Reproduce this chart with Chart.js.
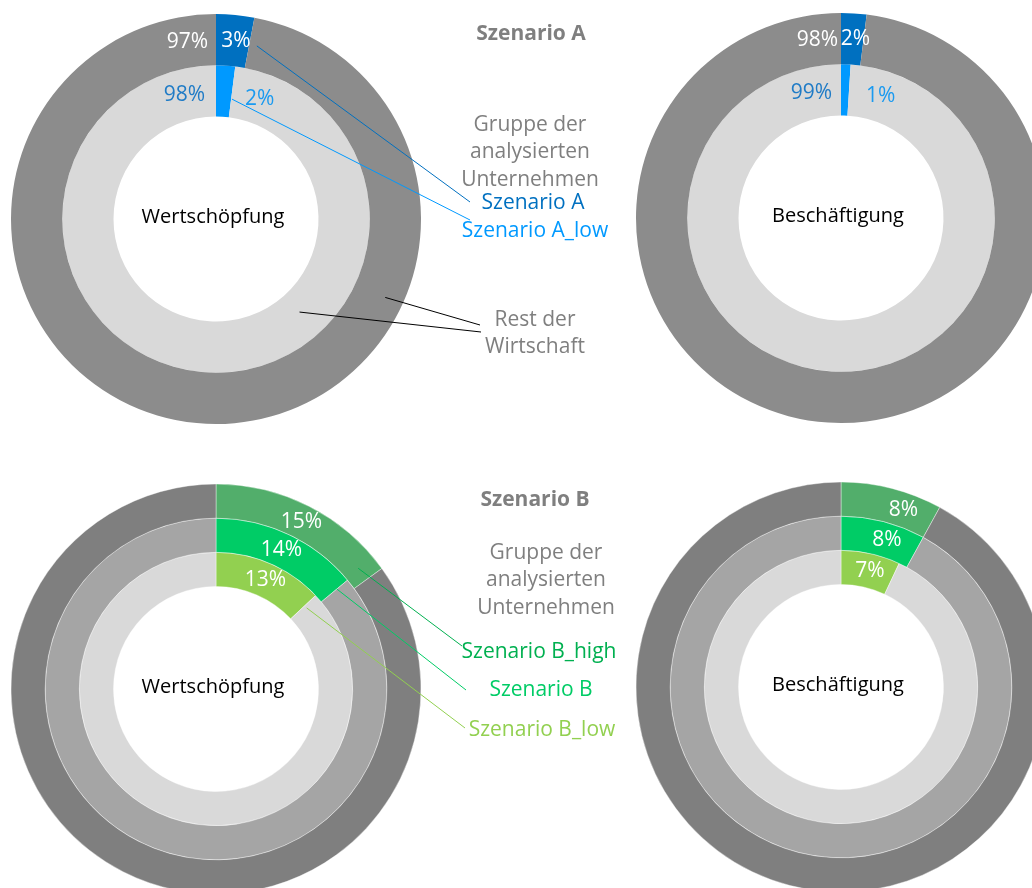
<!DOCTYPE html>
<html lang="de">
<head>
<meta charset="utf-8">
<title>Anteil der analysierten Unternehmen</title>
<script src="https://cdn.jsdelivr.net/npm/chart.js@4.4.1/dist/chart.umd.min.js"></script>
<style>
  html, body { margin: 0; padding: 0; background: #fff; }
  body { position: relative; width: 1032px; height: 888px; overflow: hidden; }
  canvas { position: absolute; }
  #wsA { left: 0; top: 0; }
  #bsA { left: 630px; top: 0; }
  #wsB { left: 0; top: 440px; }
  #bsB { left: 630px; top: 440px; }
</style>
</head>
<body>
<canvas id="wsA" width="630" height="444"></canvas>
<canvas id="wsB" width="630" height="500"></canvas>
<canvas id="bsA" width="432" height="444"></canvas>
<canvas id="bsB" width="432" height="500"></canvas>
<script>
// Kategorien und Szenarien
const categories = [['Gruppe der', 'analysierten', 'Unternehmen'], ['Rest der', 'Wirtschaft']];
const panels = ['Wertschöpfung', 'Beschäftigung'];
const scenariosA = ['Szenario A', 'Szenario A_low'];
const scenariosB = ['Szenario B_high', 'Szenario B', 'Szenario B_low'];

// Anteile in % je Ring (analysierte Unternehmen / Rest der Wirtschaft)
const wertschoepfungA = [3, 2];
const wertschoepfungARest = [97, 98];
const beschaeftigungA = [2, 1];
const beschaeftigungARest = [98, 99];
const wertschoepfungB = [15, 14, 13];
const wertschoepfungBRest = [85, 86, 87];
const beschaeftigungB = [8, 8, 7];
const beschaeftigungBRest = [92, 92, 93];

// Farben
const colorsA = ['#0070c0', '#0099ff'];
const greysA = ['#8c8c8c', '#d9d9d9'];
const colorsB = ['#52ae6b', '#00cc66', '#92d050'];
const greysB = ['#7f7f7f', '#a5a5a5', '#d9d9d9'];
const textGrey = '#7f7f7f';
const FONT = '"Open Sans", "Liberation Sans", sans-serif';

function ringDatasets(names, shares, rests, colors, greys, border) {
    return names.map((name, i) => ({
        label: name,
        data: [shares[i], rests[i]],
        backgroundColor: [colors[i], greys[i]],
        borderWidth: border ? 1 : 0,
        borderColor: 'rgba(255, 255, 255, 0.4)'
    }));
}

function arcProps(el) {
    return el.getProps(['x', 'y', 'startAngle', 'endAngle', 'innerRadius', 'outerRadius'], true);
}

// Prozentwerte in den Ringen + Beschriftung in der Mitte
function ringLabels(cfg) {
    return {
        id: 'ringLabels',
        afterDatasetsDraw(chart) {
            const ctx = chart.ctx;
            ctx.save();
            ctx.textBaseline = 'middle';
            ctx.textAlign = 'center';
            ctx.font = '21px ' + FONT;
            cfg.rings.forEach((ring, i) => {
                const meta = chart.getDatasetMeta(i);
                const values = chart.data.datasets[i].data;
                const a = arcProps(meta.data[0]);
                const rMid = (a.innerRadius + a.outerRadius) / 2;

                // Anteil der analysierten Unternehmen
                const txt = values[0] + '%';
                const w = ctx.measureText(txt).width;
                ctx.fillStyle = ring.shareColor;
                if (ring.pos === 'mid') {
                    const ang = (a.startAngle + a.endAngle) / 2 + (ring.turn || 0) * Math.PI / 180;
                    ctx.fillText(txt, a.x + rMid * Math.cos(ang), a.y + rMid * Math.sin(ang));
                } else {
                    const ex = a.x + rMid * Math.cos(a.endAngle);
                    const dx = ex - a.x + ring.gap + w / 2;
                    ctx.fillText(txt, a.x + dx, a.y - Math.sqrt(rMid * rMid - dx * dx));
                }

                // Rest der Wirtschaft, links von 12 Uhr
                if (ring.restColor) {
                    const rTxt = values[1] + '%';
                    const d = ring.restGap + ctx.measureText(rTxt).width / 2;
                    ctx.fillStyle = ring.restColor;
                    ctx.fillText(rTxt, a.x - d, a.y - Math.sqrt(rMid * rMid - d * d));
                }
            });

            const c = arcProps(chart.getDatasetMeta(0).data[0]);
            ctx.fillStyle = '#000';
            ctx.font = '20px ' + FONT;
            ctx.fillText(cfg.center, c.x - 3, c.y - 2);
            ctx.restore();
        }
    };
}

// Beschriftung zwischen den Diagrammen mit Führungslinien
function notes(cfg) {
    return {
        id: 'notes',
        afterDraw(chart) {
            if (!cfg) return;
            const ctx = chart.ctx;
            ctx.save();
            ctx.lineWidth = 1;
            cfg.lines.forEach(l => {
                const a = arcProps(chart.getDatasetMeta(l.dataset).data[l.element]);
                const ang = a.startAngle + l.f * (a.endAngle - a.startAngle);
                const r = a.innerRadius + l.t * (a.outerRadius - a.innerRadius);
                ctx.strokeStyle = l.color;
                ctx.beginPath();
                ctx.moveTo(a.x + r * Math.cos(ang), a.y + r * Math.sin(ang));
                ctx.lineTo(l.to[0], l.to[1]);
                ctx.stroke();
            });
            ctx.textAlign = 'center';
            ctx.textBaseline = 'middle';
            cfg.texts.forEach(t => {
                ctx.fillStyle = t.color;
                ctx.font = (t.bold ? 'bold 21px ' : '21px ') + FONT;
                ctx.fillText(t.text, t.x, t.y);
            });
            ctx.restore();
        }
    };
}

function donut(id, datasets, padding, labelCfg, noteCfg) {
    return new Chart(document.getElementById(id), {
        type: 'doughnut',
        data: { labels: [categories[0].join(' '), categories[1].join(' ')], datasets: datasets },
        options: {
            responsive: false,
            animation: false,
            events: [],
            radius: 205,
            cutout: '50%',
            layout: { padding: padding },
            plugins: {
                legend: { display: false },
                tooltip: { enabled: false }
            }
        },
        plugins: [ringLabels(labelCfg), notes(noteCfg)]
    });
}

// Szenario A: Wertschöpfung
donut('wsA',
    ringDatasets(scenariosA, wertschoepfungA, wertschoepfungARest, colorsA, greysA, false),
    { left: 0, top: 0, right: 198, bottom: 6 },
    {
        center: panels[0],
        rings: [
            { pos: 'mid', turn: 1, shareColor: '#fff', restColor: '#fff', restGap: 8 },
            { pos: 'after', gap: 13, shareColor: '#1a9af0', restColor: '#1f7bc6', restGap: 11 }
        ]
    },
    {
        texts: [
            { text: 'Szenario A', x: 531, y: 34, color: textGrey, bold: true },
            ...categories[0].map((t, k) => ({ text: t, x: 530, y: 125 + k * 27.5, color: textGrey })),
            { text: scenariosA[0], x: 533, y: 203, color: colorsA[0] },
            { text: scenariosA[1], x: 535, y: 231, color: colorsA[1] },
            ...categories[1].map((t, k) => ({ text: t, x: 535, y: 320 + k * 27.5, color: textGrey }))
        ],
        lines: [
            { dataset: 0, element: 0, f: 1.23, t: 0.47, to: [470, 202], color: colorsA[0] },
            { dataset: 1, element: 0, f: 1.05, t: 0.36, to: [470, 220], color: colorsA[1] },
            { dataset: 0, element: 1, f: 0.298, t: 0.64, to: [480, 325], color: '#000' },
            { dataset: 1, element: 1, f: 0.371, t: 0.44, to: [481, 332], color: '#000' }
        ]
    }
);

// Szenario A: Beschäftigung
donut('bsA',
    ringDatasets(scenariosA, beschaeftigungA, beschaeftigungARest, colorsA, greysA, false),
    { left: 0, top: 0, right: 10, bottom: 8 },
    {
        center: panels[1],
        rings: [
            { pos: 'mid', turn: 1, shareColor: '#fff', restColor: '#fff', restGap: 3 },
            { pos: 'after', gap: 17, shareColor: '#1a9af0', restColor: '#1f7bc6', restGap: 9 }
        ]
    }
);

// Szenario B: Wertschöpfung
donut('wsB',
    ringDatasets(scenariosB, wertschoepfungB, wertschoepfungBRest, colorsB, greysB, true),
    { left: 0, top: 0, right: 198, bottom: 2 },
    {
        center: panels[0],
        rings: [
            { pos: 'mid', shareColor: '#fff' },
            { pos: 'mid', shareColor: '#fff' },
            { pos: 'mid', shareColor: '#fff', turn: 1 }
        ]
    },
    {
        texts: [
            { text: 'Szenario B', x: 535, y: 60, color: textGrey, bold: true },
            ...categories[0].map((t, k) => ({ text: t, x: 546, y: 113 + k * 27.5, color: textGrey })),
            { text: scenariosB[0], x: 539, y: 212, color: '#00b050' },
            { text: scenariosB[1], x: 541, y: 250, color: colorsB[1] },
            { text: scenariosB[2], x: 542, y: 290, color: colorsB[2] }
        ],
        lines: [
            { dataset: 0, element: 0, f: 0.92, t: 0.46, to: [462, 206], color: '#00b050' },
            { dataset: 1, element: 0, f: 1.0, t: 0.59, to: [466, 250], color: colorsB[1] },
            { dataset: 2, element: 0, f: 1.03, t: 0.56, to: [465, 288], color: colorsB[2] }
        ]
    }
);

// Szenario B: Beschäftigung
donut('bsB',
    ringDatasets(scenariosB, beschaeftigungB, beschaeftigungBRest, colorsB, greysB, true),
    { left: 0, top: 0, right: 10, bottom: 6 },
    {
        center: panels[1],
        rings: [
            { pos: 'mid', shareColor: '#fff', turn: 5 },
            { pos: 'mid', shareColor: '#fff', turn: 3 },
            { pos: 'mid', shareColor: '#fff', turn: 1.4 }
        ]
    }
);
</script>
</body>
</html>
